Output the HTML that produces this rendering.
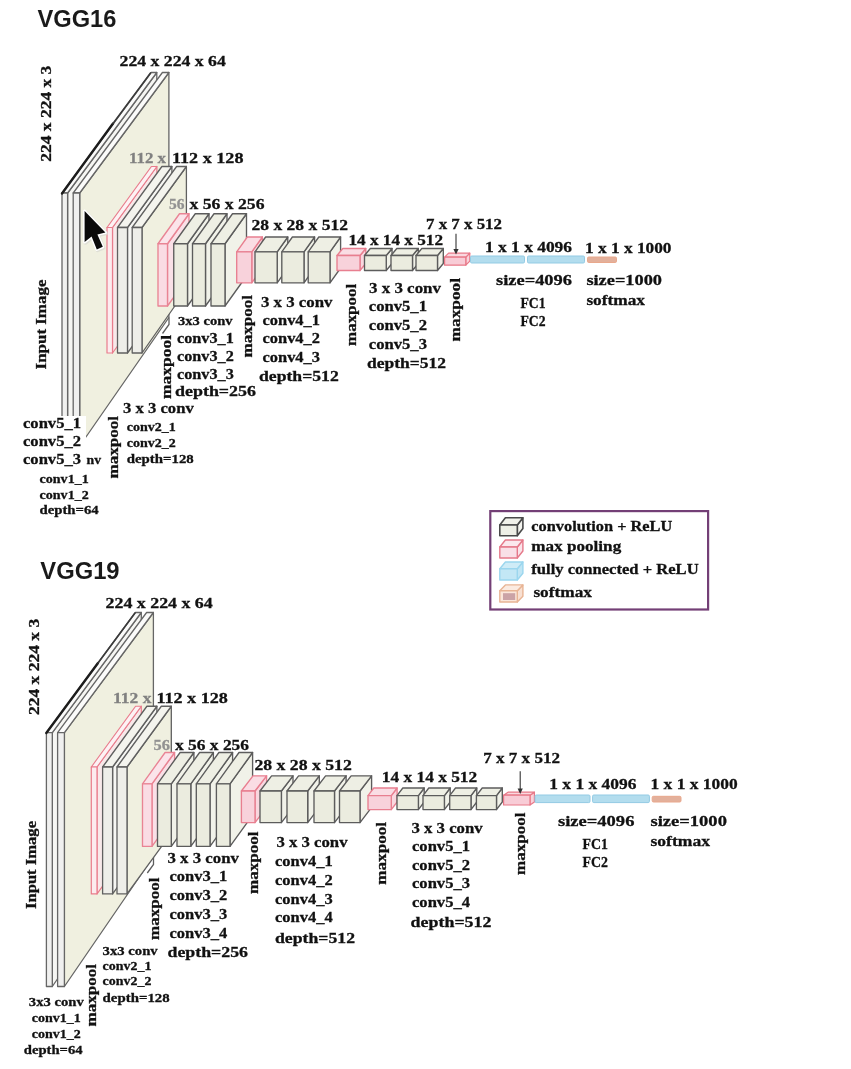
<!DOCTYPE html>
<html lang="en">
<head>
<meta charset="utf-8">
<title>VGG16 / VGG19 architecture</title>
<style>
html,body{margin:0;padding:0;background:#fff;}
body{width:851px;height:1069px;overflow:hidden;}
svg{display:block;}
text.s{font-family:"Liberation Serif","DejaVu Serif",serif;font-weight:bold;}
text.a{font-family:"Liberation Sans","DejaVu Sans",sans-serif;font-weight:bold;}
</style>
</head>
<body>
<svg width="851" height="1069" viewBox="0 0 851 1069">
<rect width="851" height="1069" fill="#ffffff"/>
<g opacity="0.999">
<g id="vgg16">
<text class="a" x="37.5" y="27" font-size="24" fill="#1a1a1a" textLength="78.9" lengthAdjust="spacingAndGlyphs">VGG16</text>
<polygon points="67.6,193 156.8,72.5 156.8,318 67.6,446" fill="#f6f6f3" stroke="#666666" stroke-width="1.3" stroke-linejoin="round"/>
<polygon points="62,193 151.2,72.5 156.8,72.5 67.6,193" fill="#fbfbfa" stroke="#666666" stroke-width="1.3" stroke-linejoin="round"/>
<rect x="62" y="193" width="5.6" height="253" fill="#f0f0ef" stroke="#666666" stroke-width="1.3" stroke-linejoin="round"/>
<polygon points="79.7,193 168.9,72.5 168.9,317.5 79.7,446" fill="#f0f0e0" stroke="#666666" stroke-width="1.3" stroke-linejoin="round"/>
<polygon points="73.2,193 162.4,72.5 168.9,72.5 79.7,193" fill="#fbfbfa" stroke="#666666" stroke-width="1.3" stroke-linejoin="round"/>
<rect x="73.2" y="193" width="6.5" height="253" fill="#f0f0ef" stroke="#666666" stroke-width="1.3" stroke-linejoin="round"/>
<polyline points="169,317.5 169,324.5 162.5,333.5" fill="none" stroke="#5e5e5e" stroke-width="1.3"/>
<polyline points="62,193.5 113,123.5" fill="none" stroke="#1c1c1c" stroke-width="2.4" stroke-linecap="round"/>
<polyline points="113,123.5 150.5,73" fill="none" stroke="#3a3a3a" stroke-width="1.6" stroke-linecap="round"/>
<polygon points="112.5,227.5 156.9,166.5 156.9,292 112.5,353" fill="#f8e9ea" stroke="#e97c8c" stroke-width="1.2" stroke-linejoin="round"/>
<polygon points="107,227.5 151.4,166.5 156.9,166.5 112.5,227.5" fill="#fdf2f4" stroke="#e97c8c" stroke-width="1.2" stroke-linejoin="round"/>
<rect x="107" y="227.5" width="5.5" height="125.5" fill="#fcecef" stroke="#e97c8c" stroke-width="1.2" stroke-linejoin="round"/>
<polygon points="127.5,227.5 171.9,166.5 171.9,292 127.5,353" fill="#f6f6f3" stroke="#606060" stroke-width="1.3" stroke-linejoin="round"/>
<polygon points="117.5,227.5 161.9,166.5 171.9,166.5 127.5,227.5" fill="#f4f4ee" stroke="#606060" stroke-width="1.3" stroke-linejoin="round"/>
<rect x="117.5" y="227.5" width="10" height="125.5" fill="#eeeee9" stroke="#606060" stroke-width="1.3" stroke-linejoin="round"/>
<polygon points="142,227.5 186.4,166.5 186.4,289.5 142,353" fill="#f0f0e0" stroke="#606060" stroke-width="1.3" stroke-linejoin="round"/>
<polygon points="132.2,227.5 176.6,166.5 186.4,166.5 142,227.5" fill="#f4f4ee" stroke="#606060" stroke-width="1.3" stroke-linejoin="round"/>
<rect x="132.2" y="227.5" width="9.8" height="125.5" fill="#eeeee9" stroke="#606060" stroke-width="1.3" stroke-linejoin="round"/>
<polygon points="167.5,243.75 189,213.75 189,276 167.5,306" fill="#fae0e7" stroke="#e98494" stroke-width="1.35" stroke-linejoin="round"/>
<polygon points="158,243.75 179.5,213.75 189,213.75 167.5,243.75" fill="#fbe4ea" stroke="#e98494" stroke-width="1.35" stroke-linejoin="round"/>
<rect x="158" y="243.75" width="9.5" height="62.25" fill="#fadce4" stroke="#e98494" stroke-width="1.35" stroke-linejoin="round"/>
<polygon points="187.5,243.75 209,213.75 209,276 187.5,306" fill="#f1f2e9" stroke="#5c5c5c" stroke-width="1.35" stroke-linejoin="round"/>
<polygon points="173.75,243.75 195.25,213.75 209,213.75 187.5,243.75" fill="#eeefe4" stroke="#5c5c5c" stroke-width="1.35" stroke-linejoin="round"/>
<rect x="173.75" y="243.75" width="13.75" height="62.25" fill="#ebecdf" stroke="#5c5c5c" stroke-width="1.35" stroke-linejoin="round"/>
<polygon points="205.5,243.75 227,213.75 227,276 205.5,306" fill="#f1f2e9" stroke="#5c5c5c" stroke-width="1.35" stroke-linejoin="round"/>
<polygon points="192.5,243.75 214,213.75 227,213.75 205.5,243.75" fill="#eeefe4" stroke="#5c5c5c" stroke-width="1.35" stroke-linejoin="round"/>
<rect x="192.5" y="243.75" width="13" height="62.25" fill="#ebecdf" stroke="#5c5c5c" stroke-width="1.35" stroke-linejoin="round"/>
<polygon points="225,243.75 246.5,213.75 246.5,276 225,306" fill="#f1f2e9" stroke="#5c5c5c" stroke-width="1.35" stroke-linejoin="round"/>
<polygon points="211,243.75 232.5,213.75 246.5,213.75 225,243.75" fill="#eeefe4" stroke="#5c5c5c" stroke-width="1.35" stroke-linejoin="round"/>
<rect x="211" y="243.75" width="14" height="62.25" fill="#ebecdf" stroke="#5c5c5c" stroke-width="1.35" stroke-linejoin="round"/>
<polygon points="251.8,251.8 262.4,237 262.4,268 251.8,282.8" fill="#f9d7df" stroke="#e87f90" stroke-width="1.35" stroke-linejoin="round"/>
<polygon points="236.7,251.8 247.3,237 262.4,237 251.8,251.8" fill="#fadde4" stroke="#e87f90" stroke-width="1.35" stroke-linejoin="round"/>
<rect x="236.7" y="251.8" width="15.1" height="31" fill="#f8d2db" stroke="#e87f90" stroke-width="1.35" stroke-linejoin="round"/>
<polygon points="277.2,251.8 287.8,237 287.8,268 277.2,282.8" fill="#f1f2e9" stroke="#5c5c5c" stroke-width="1.35" stroke-linejoin="round"/>
<polygon points="255,251.8 265.6,237 287.8,237 277.2,251.8" fill="#eeefe4" stroke="#5c5c5c" stroke-width="1.35" stroke-linejoin="round"/>
<rect x="255" y="251.8" width="22.2" height="31" fill="#ebecdf" stroke="#5c5c5c" stroke-width="1.35" stroke-linejoin="round"/>
<polygon points="304,251.8 314.6,237 314.6,268 304,282.8" fill="#f1f2e9" stroke="#5c5c5c" stroke-width="1.35" stroke-linejoin="round"/>
<polygon points="281.8,251.8 292.4,237 314.6,237 304,251.8" fill="#eeefe4" stroke="#5c5c5c" stroke-width="1.35" stroke-linejoin="round"/>
<rect x="281.8" y="251.8" width="22.2" height="31" fill="#ebecdf" stroke="#5c5c5c" stroke-width="1.35" stroke-linejoin="round"/>
<polygon points="330,251.8 340.6,237 340.6,268 330,282.8" fill="#f1f2e9" stroke="#5c5c5c" stroke-width="1.35" stroke-linejoin="round"/>
<polygon points="308.2,251.8 318.8,237 340.6,237 330,251.8" fill="#eeefe4" stroke="#5c5c5c" stroke-width="1.35" stroke-linejoin="round"/>
<rect x="308.2" y="251.8" width="21.8" height="31" fill="#ebecdf" stroke="#5c5c5c" stroke-width="1.35" stroke-linejoin="round"/>
<polygon points="360,255.5 365.8,248.5 365.8,263.5 360,270.5" fill="#f9d7df" stroke="#e87f90" stroke-width="1.35" stroke-linejoin="round"/>
<polygon points="337,255.5 342.8,248.5 365.8,248.5 360,255.5" fill="#fadde4" stroke="#e87f90" stroke-width="1.35" stroke-linejoin="round"/>
<rect x="337" y="255.5" width="23" height="15" fill="#f8d2db" stroke="#e87f90" stroke-width="1.35" stroke-linejoin="round"/>
<polygon points="386.25,255.5 392.05,248.5 392.05,263.5 386.25,270.5" fill="#f1f2e9" stroke="#5c5c5c" stroke-width="1.35" stroke-linejoin="round"/>
<polygon points="364.5,255.5 370.3,248.5 392.05,248.5 386.25,255.5" fill="#eeefe4" stroke="#5c5c5c" stroke-width="1.35" stroke-linejoin="round"/>
<rect x="364.5" y="255.5" width="21.75" height="15" fill="#ebecdf" stroke="#5c5c5c" stroke-width="1.35" stroke-linejoin="round"/>
<polygon points="412.5,255.5 418.3,248.5 418.3,263.5 412.5,270.5" fill="#f1f2e9" stroke="#5c5c5c" stroke-width="1.35" stroke-linejoin="round"/>
<polygon points="391,255.5 396.8,248.5 418.3,248.5 412.5,255.5" fill="#eeefe4" stroke="#5c5c5c" stroke-width="1.35" stroke-linejoin="round"/>
<rect x="391" y="255.5" width="21.5" height="15" fill="#ebecdf" stroke="#5c5c5c" stroke-width="1.35" stroke-linejoin="round"/>
<polygon points="437.5,255.5 443.3,248.5 443.3,263.5 437.5,270.5" fill="#f1f2e9" stroke="#5c5c5c" stroke-width="1.35" stroke-linejoin="round"/>
<polygon points="416,255.5 421.8,248.5 443.3,248.5 437.5,255.5" fill="#eeefe4" stroke="#5c5c5c" stroke-width="1.35" stroke-linejoin="round"/>
<rect x="416" y="255.5" width="21.5" height="15" fill="#ebecdf" stroke="#5c5c5c" stroke-width="1.35" stroke-linejoin="round"/>
<polygon points="465.8,257.2 469.8,253.2 469.8,261.2 465.8,265.2" fill="#f9d2da" stroke="#e87888" stroke-width="1.2" stroke-linejoin="round"/>
<polygon points="444.6,257.2 448.6,253.2 469.8,253.2 465.8,257.2" fill="#fad8df" stroke="#e87888" stroke-width="1.2" stroke-linejoin="round"/>
<rect x="444.6" y="257.2" width="21.2" height="8" fill="#f8ccd6" stroke="#e87888" stroke-width="1.2" stroke-linejoin="round"/>
<line x1="456" y1="233.75" x2="456" y2="252.5" stroke="#333" stroke-width="1.1"/>
<polygon points="453.4,249 458.6,249 456,254.5" fill="#333"/>
<rect x="470.5" y="256" width="54" height="7" rx="1.2" fill="#b3ddee" stroke="#93cbe4" stroke-width="1"/>
<rect x="527.5" y="256" width="57" height="7" rx="1.2" fill="#b3ddee" stroke="#93cbe4" stroke-width="1"/>
<rect x="587.5" y="257" width="29" height="5.5" rx="1.2" fill="#e3b09b" stroke="#e9a88c" stroke-width="1"/>
<rect x="20" y="416" width="66" height="52" fill="#fff"/>
<path d="M84.6 211 L84.6 242 L91.6 236.6 L96.8 249.4 L102.8 246.8 L97.4 234.4 L105.4 232.6 Z" fill="#dcdcd4" stroke="#dcdcd4" stroke-width="3.6" stroke-linejoin="round" transform="translate(0.8 1)" opacity="0.8"/>
<path d="M84.6 211 L84.6 242 L91.6 236.6 L96.8 249.4 L102.8 246.8 L97.4 234.4 L105.4 232.6 Z" fill="#0a0a0a" stroke="#ffffff" stroke-width="3" stroke-linejoin="round" paint-order="stroke"/>
<text class="s" x="119.6" y="65.6" font-size="15.5" fill="#111" stroke="#111" stroke-width="0.3" textLength="106.2" lengthAdjust="spacingAndGlyphs">224 x 224 x 64</text>
<text class="s" transform="translate(51.3 161.7) rotate(-90)" font-size="15.5" fill="#111" stroke="#111" stroke-width="0.3" textLength="96" lengthAdjust="spacingAndGlyphs">224 x 224 x 3</text>
<text class="s" x="129" y="162.7" font-size="15.5" fill="#808080" stroke="#808080" stroke-width="0.3" textLength="37" lengthAdjust="spacingAndGlyphs">112 x</text>
<text class="s" x="172" y="162.7" font-size="15.5" fill="#111" stroke="#111" stroke-width="0.3" textLength="71.5" lengthAdjust="spacingAndGlyphs">112 x 128</text>
<text class="s" x="169" y="208.5" font-size="15.5" fill="#929292" stroke="#929292" stroke-width="0.3" textLength="15.5" lengthAdjust="spacingAndGlyphs">56</text>
<text class="s" x="189.5" y="208.5" font-size="15.5" fill="#111" stroke="#111" stroke-width="0.3" textLength="75" lengthAdjust="spacingAndGlyphs">x 56 x 256</text>
<text class="s" x="251.5" y="229.5" font-size="15.5" fill="#111" stroke="#111" stroke-width="0.3" textLength="96.5" lengthAdjust="spacingAndGlyphs">28 x 28 x 512</text>
<text class="s" x="348.5" y="244.5" font-size="15.5" fill="#111" stroke="#111" stroke-width="0.3" textLength="94.5" lengthAdjust="spacingAndGlyphs">14 x 14 x 512</text>
<text class="s" x="426" y="229.3" font-size="15.5" fill="#111" stroke="#111" stroke-width="0.3" textLength="76" lengthAdjust="spacingAndGlyphs">7 x 7 x 512</text>
<text class="s" x="485" y="252" font-size="15.5" fill="#111" stroke="#111" stroke-width="0.3" textLength="87" lengthAdjust="spacingAndGlyphs">1 x 1 x 4096</text>
<text class="s" x="585" y="253" font-size="15.5" fill="#111" stroke="#111" stroke-width="0.3" textLength="86.5" lengthAdjust="spacingAndGlyphs">1 x 1 x 1000</text>
<text class="s" x="496" y="285" font-size="15.5" fill="#111" stroke="#111" stroke-width="0.3" textLength="76" lengthAdjust="spacingAndGlyphs">size=4096</text>
<text class="s" x="586.4" y="285" font-size="15.5" fill="#111" stroke="#111" stroke-width="0.3" textLength="75.6" lengthAdjust="spacingAndGlyphs">size=1000</text>
<text class="s" x="520.5" y="308" font-size="15.5" fill="#111" stroke="#111" stroke-width="0.3" textLength="25.1" lengthAdjust="spacingAndGlyphs">FC1</text>
<text class="s" x="520.5" y="326.4" font-size="15.5" fill="#111" stroke="#111" stroke-width="0.3" textLength="25.1" lengthAdjust="spacingAndGlyphs">FC2</text>
<text class="s" x="586.4" y="305" font-size="15.5" fill="#111" stroke="#111" stroke-width="0.3" textLength="58.6" lengthAdjust="spacingAndGlyphs">softmax</text>
<text class="s" transform="translate(46 369.4) rotate(-90)" font-size="15.5" fill="#111" stroke="#111" stroke-width="0.3" textLength="89.8" lengthAdjust="spacingAndGlyphs">Input Image</text>
<text class="s" transform="translate(117.5 478.5) rotate(-90)" font-size="15.5" fill="#111" stroke="#111" stroke-width="0.3" textLength="62.5" lengthAdjust="spacingAndGlyphs">maxpool</text>
<text class="s" transform="translate(170.5 399) rotate(-90)" font-size="15.5" fill="#111" stroke="#111" stroke-width="0.3" textLength="64" lengthAdjust="spacingAndGlyphs">maxpool</text>
<text class="s" transform="translate(252.3 357.5) rotate(-90)" font-size="15.5" fill="#111" stroke="#111" stroke-width="0.3" textLength="62.5" lengthAdjust="spacingAndGlyphs">maxpool</text>
<text class="s" transform="translate(356 346) rotate(-90)" font-size="15.5" fill="#111" stroke="#111" stroke-width="0.3" textLength="62.25" lengthAdjust="spacingAndGlyphs">maxpool</text>
<text class="s" transform="translate(460 341.4) rotate(-90)" font-size="15.5" fill="#111" stroke="#111" stroke-width="0.3" textLength="63.4" lengthAdjust="spacingAndGlyphs">maxpool</text>
<text class="s" x="23" y="427.5" font-size="15.5" fill="#111" stroke="#111" stroke-width="0.3" textLength="58" lengthAdjust="spacingAndGlyphs">conv5_1</text>
<text class="s" x="23" y="445.5" font-size="15.5" fill="#111" stroke="#111" stroke-width="0.3" textLength="58" lengthAdjust="spacingAndGlyphs">conv5_2</text>
<text class="s" x="23" y="464" font-size="15.5" fill="#111" stroke="#111" stroke-width="0.3" textLength="58" lengthAdjust="spacingAndGlyphs">conv5_3</text>
<text class="s" x="86.5" y="464" font-size="13" fill="#111" stroke="#111" stroke-width="0.3" textLength="14.5" lengthAdjust="spacingAndGlyphs">nv</text>
<text class="s" x="39.5" y="483" font-size="13" fill="#111" stroke="#111" stroke-width="0.3" textLength="49.25" lengthAdjust="spacingAndGlyphs">conv1_1</text>
<text class="s" x="39.5" y="498.75" font-size="13" fill="#111" stroke="#111" stroke-width="0.3" textLength="49.25" lengthAdjust="spacingAndGlyphs">conv1_2</text>
<text class="s" x="39.5" y="514" font-size="13" fill="#111" stroke="#111" stroke-width="0.3" textLength="59.25" lengthAdjust="spacingAndGlyphs">depth=64</text>
<text class="s" x="123" y="412.5" font-size="15.5" fill="#111" stroke="#111" stroke-width="0.3" textLength="70.75" lengthAdjust="spacingAndGlyphs">3 x 3 conv</text>
<text class="s" x="126.75" y="430.75" font-size="13" fill="#111" stroke="#111" stroke-width="0.3" textLength="49" lengthAdjust="spacingAndGlyphs">conv2_1</text>
<text class="s" x="126.75" y="446.75" font-size="13" fill="#111" stroke="#111" stroke-width="0.3" textLength="49" lengthAdjust="spacingAndGlyphs">conv2_2</text>
<text class="s" x="126.75" y="462.5" font-size="13" fill="#111" stroke="#111" stroke-width="0.3" textLength="67" lengthAdjust="spacingAndGlyphs">depth=128</text>
<text class="s" x="178" y="325" font-size="13" fill="#111" stroke="#111" stroke-width="0.3" textLength="54.5" lengthAdjust="spacingAndGlyphs">3x3 conv</text>
<text class="s" x="177" y="342.5" font-size="15.5" fill="#111" stroke="#111" stroke-width="0.3" textLength="56.75" lengthAdjust="spacingAndGlyphs">conv3_1</text>
<text class="s" x="177" y="360.5" font-size="15.5" fill="#111" stroke="#111" stroke-width="0.3" textLength="56.75" lengthAdjust="spacingAndGlyphs">conv3_2</text>
<text class="s" x="177" y="378.75" font-size="15.5" fill="#111" stroke="#111" stroke-width="0.3" textLength="56.75" lengthAdjust="spacingAndGlyphs">conv3_3</text>
<text class="s" x="175" y="396" font-size="15.5" fill="#111" stroke="#111" stroke-width="0.3" textLength="81" lengthAdjust="spacingAndGlyphs">depth=256</text>
<text class="s" x="261" y="307" font-size="15.5" fill="#111" stroke="#111" stroke-width="0.3" textLength="71.5" lengthAdjust="spacingAndGlyphs">3 x 3 conv</text>
<text class="s" x="262.5" y="325" font-size="15.5" fill="#111" stroke="#111" stroke-width="0.3" textLength="57.5" lengthAdjust="spacingAndGlyphs">conv4_1</text>
<text class="s" x="262.5" y="343" font-size="15.5" fill="#111" stroke="#111" stroke-width="0.3" textLength="57.5" lengthAdjust="spacingAndGlyphs">conv4_2</text>
<text class="s" x="262.5" y="362" font-size="15.5" fill="#111" stroke="#111" stroke-width="0.3" textLength="57.5" lengthAdjust="spacingAndGlyphs">conv4_3</text>
<text class="s" x="259" y="381" font-size="15.5" fill="#111" stroke="#111" stroke-width="0.3" textLength="79.75" lengthAdjust="spacingAndGlyphs">depth=512</text>
<text class="s" x="369" y="293" font-size="15.5" fill="#111" stroke="#111" stroke-width="0.3" textLength="72" lengthAdjust="spacingAndGlyphs">3 x 3 conv</text>
<text class="s" x="368.75" y="311.4" font-size="15.5" fill="#111" stroke="#111" stroke-width="0.3" textLength="58.25" lengthAdjust="spacingAndGlyphs">conv5_1</text>
<text class="s" x="368.75" y="330" font-size="15.5" fill="#111" stroke="#111" stroke-width="0.3" textLength="58.25" lengthAdjust="spacingAndGlyphs">conv5_2</text>
<text class="s" x="368.75" y="349" font-size="15.5" fill="#111" stroke="#111" stroke-width="0.3" textLength="58.25" lengthAdjust="spacingAndGlyphs">conv5_3</text>
<text class="s" x="367" y="367.7" font-size="15.5" fill="#111" stroke="#111" stroke-width="0.3" textLength="79" lengthAdjust="spacingAndGlyphs">depth=512</text>
</g>
<g id="legend">
<rect x="490.3" y="511.1" width="217.8" height="98.4" fill="#fff" stroke="#733f76" stroke-width="2.2"/>
<polygon points="517.3,525 522.9,517.8 522.9,528.5 517.3,535.7" fill="#f3f3ee" stroke="#4a4a4a" stroke-width="1.6" stroke-linejoin="round"/>
<polygon points="499.8,525 505.4,517.8 522.9,517.8 517.3,525" fill="#f1f1ea" stroke="#4a4a4a" stroke-width="1.6" stroke-linejoin="round"/>
<rect x="499.8" y="525" width="17.5" height="10.7" fill="#eeefe6" stroke="#4a4a4a" stroke-width="1.6" stroke-linejoin="round"/>
<polygon points="517.3,547 522.9,540 522.9,551 517.3,558" fill="#fae3e9" stroke="#e5798a" stroke-width="1.4" stroke-linejoin="round"/>
<polygon points="499.8,547 505.4,540 522.9,540 517.3,547" fill="#fbe8ed" stroke="#e5798a" stroke-width="1.4" stroke-linejoin="round"/>
<rect x="499.8" y="547" width="17.5" height="11" fill="#f9e0e7" stroke="#e5798a" stroke-width="1.4" stroke-linejoin="round"/>
<polygon points="517.3,568.8 522.9,562 522.9,573.2 517.3,580" fill="#c0e5f4" stroke="#9bd6ee" stroke-width="1.4" stroke-linejoin="round"/>
<polygon points="499.8,568.8 505.4,562 522.9,562 517.3,568.8" fill="#cfecf7" stroke="#9bd6ee" stroke-width="1.4" stroke-linejoin="round"/>
<rect x="499.8" y="568.8" width="17.5" height="11.2" fill="#c3e7f5" stroke="#9bd6ee" stroke-width="1.4" stroke-linejoin="round"/>
<polygon points="517.3,590.7 522.9,584.9 522.9,596.2 517.3,602" fill="#f8e0d2" stroke="#e8b494" stroke-width="1.4" stroke-linejoin="round"/>
<polygon points="499.8,590.7 505.4,584.9 522.9,584.9 517.3,590.7" fill="#fbebe1" stroke="#e8b494" stroke-width="1.4" stroke-linejoin="round"/>
<rect x="499.8" y="590.7" width="17.5" height="11.3" fill="#fae6da" stroke="#e8b494" stroke-width="1.4" stroke-linejoin="round"/>
<rect x="503" y="593.2" width="12.2" height="6.8" fill="#cba3a6"/>
<text class="s" x="531.3" y="530.6" font-size="15.5" fill="#111" stroke="#111" stroke-width="0.3" textLength="141" lengthAdjust="spacingAndGlyphs">convolution + ReLU</text>
<text class="s" x="531.3" y="551.4" font-size="15.5" fill="#111" stroke="#111" stroke-width="0.3" textLength="89.9" lengthAdjust="spacingAndGlyphs">max pooling</text>
<text class="s" x="531.3" y="574" font-size="15.5" fill="#111" stroke="#111" stroke-width="0.3" textLength="167.3" lengthAdjust="spacingAndGlyphs">fully connected + ReLU</text>
<text class="s" x="533.4" y="597.3" font-size="15.5" fill="#111" stroke="#111" stroke-width="0.3" textLength="58.6" lengthAdjust="spacingAndGlyphs">softmax</text>
</g>
<g id="vgg19">
<text class="a" x="40.3" y="579" font-size="24" fill="#1a1a1a" textLength="79.3" lengthAdjust="spacingAndGlyphs">VGG19</text>
<polygon points="52.3,732.7 141.3,612.5 141.3,857 52.3,986.5" fill="#f6f6f3" stroke="#666666" stroke-width="1.3" stroke-linejoin="round"/>
<polygon points="46.4,732.7 135.4,612.5 141.3,612.5 52.3,732.7" fill="#fbfbfa" stroke="#666666" stroke-width="1.3" stroke-linejoin="round"/>
<rect x="46.4" y="732.7" width="5.9" height="253.8" fill="#f0f0ef" stroke="#666666" stroke-width="1.3" stroke-linejoin="round"/>
<polygon points="64.4,732.7 153.4,612.5 153.4,856.5 64.4,986.5" fill="#f0f0e0" stroke="#666666" stroke-width="1.3" stroke-linejoin="round"/>
<polygon points="57.6,732.7 146.6,612.5 153.4,612.5 64.4,732.7" fill="#fbfbfa" stroke="#666666" stroke-width="1.3" stroke-linejoin="round"/>
<rect x="57.6" y="732.7" width="6.8" height="253.8" fill="#f0f0ef" stroke="#666666" stroke-width="1.3" stroke-linejoin="round"/>
<polyline points="153.5,856.5 153.5,864.5 147.3,873" fill="none" stroke="#5e5e5e" stroke-width="1.3"/>
<polyline points="46.3,733 98,663" fill="none" stroke="#1c1c1c" stroke-width="2.4" stroke-linecap="round"/>
<polyline points="98,663 135,613" fill="none" stroke="#3a3a3a" stroke-width="1.6" stroke-linecap="round"/>
<polygon points="97,767 141.3,706.25 141.3,833.15 97,893.9" fill="#f8e9ea" stroke="#e97c8c" stroke-width="1.2" stroke-linejoin="round"/>
<polygon points="91.3,767 135.6,706.25 141.3,706.25 97,767" fill="#fdf2f4" stroke="#e97c8c" stroke-width="1.2" stroke-linejoin="round"/>
<rect x="91.3" y="767" width="5.7" height="126.9" fill="#fcecef" stroke="#e97c8c" stroke-width="1.2" stroke-linejoin="round"/>
<polygon points="112.6,767 156.9,706.25 156.9,833.15 112.6,893.9" fill="#f6f6f3" stroke="#606060" stroke-width="1.3" stroke-linejoin="round"/>
<polygon points="102.6,767 146.9,706.25 156.9,706.25 112.6,767" fill="#f4f4ee" stroke="#606060" stroke-width="1.3" stroke-linejoin="round"/>
<rect x="102.6" y="767" width="10" height="126.9" fill="#eeeee9" stroke="#606060" stroke-width="1.3" stroke-linejoin="round"/>
<polygon points="127,767 171.3,706.25 171.3,833.15 127,893.9" fill="#f0f0e0" stroke="#606060" stroke-width="1.3" stroke-linejoin="round"/>
<polygon points="117,767 161.3,706.25 171.3,706.25 127,767" fill="#f4f4ee" stroke="#606060" stroke-width="1.3" stroke-linejoin="round"/>
<rect x="117" y="767" width="10" height="126.9" fill="#eeeee9" stroke="#606060" stroke-width="1.3" stroke-linejoin="round"/>
<polygon points="152,783.8 174.6,752.5 174.6,815.1 152,846.4" fill="#fae0e7" stroke="#e98494" stroke-width="1.35" stroke-linejoin="round"/>
<polygon points="142.5,783.8 165.1,752.5 174.6,752.5 152,783.8" fill="#fbe4ea" stroke="#e98494" stroke-width="1.35" stroke-linejoin="round"/>
<rect x="142.5" y="783.8" width="9.5" height="62.6" fill="#fadce4" stroke="#e98494" stroke-width="1.35" stroke-linejoin="round"/>
<polygon points="171.3,783.8 193.9,752.5 193.9,815.1 171.3,846.4" fill="#f1f2e9" stroke="#5c5c5c" stroke-width="1.35" stroke-linejoin="round"/>
<polygon points="157.5,783.8 180.1,752.5 193.9,752.5 171.3,783.8" fill="#eeefe4" stroke="#5c5c5c" stroke-width="1.35" stroke-linejoin="round"/>
<rect x="157.5" y="783.8" width="13.8" height="62.6" fill="#ebecdf" stroke="#5c5c5c" stroke-width="1.35" stroke-linejoin="round"/>
<polygon points="190.8,783.8 213.4,752.5 213.4,815.1 190.8,846.4" fill="#f1f2e9" stroke="#5c5c5c" stroke-width="1.35" stroke-linejoin="round"/>
<polygon points="177,783.8 199.6,752.5 213.4,752.5 190.8,783.8" fill="#eeefe4" stroke="#5c5c5c" stroke-width="1.35" stroke-linejoin="round"/>
<rect x="177" y="783.8" width="13.8" height="62.6" fill="#ebecdf" stroke="#5c5c5c" stroke-width="1.35" stroke-linejoin="round"/>
<polygon points="210,783.8 232.6,752.5 232.6,815.1 210,846.4" fill="#f1f2e9" stroke="#5c5c5c" stroke-width="1.35" stroke-linejoin="round"/>
<polygon points="196.3,783.8 218.9,752.5 232.6,752.5 210,783.8" fill="#eeefe4" stroke="#5c5c5c" stroke-width="1.35" stroke-linejoin="round"/>
<rect x="196.3" y="783.8" width="13.7" height="62.6" fill="#ebecdf" stroke="#5c5c5c" stroke-width="1.35" stroke-linejoin="round"/>
<polygon points="230,783.8 252.6,752.5 252.6,815.1 230,846.4" fill="#f1f2e9" stroke="#5c5c5c" stroke-width="1.35" stroke-linejoin="round"/>
<polygon points="216.4,783.8 239,752.5 252.6,752.5 230,783.8" fill="#eeefe4" stroke="#5c5c5c" stroke-width="1.35" stroke-linejoin="round"/>
<rect x="216.4" y="783.8" width="13.6" height="62.6" fill="#ebecdf" stroke="#5c5c5c" stroke-width="1.35" stroke-linejoin="round"/>
<polygon points="255,791 266.6,775.8 266.6,807.4 255,822.6" fill="#f9d7df" stroke="#e87f90" stroke-width="1.35" stroke-linejoin="round"/>
<polygon points="241.4,791 253,775.8 266.6,775.8 255,791" fill="#fadde4" stroke="#e87f90" stroke-width="1.35" stroke-linejoin="round"/>
<rect x="241.4" y="791" width="13.6" height="31.6" fill="#f8d2db" stroke="#e87f90" stroke-width="1.35" stroke-linejoin="round"/>
<polygon points="281.4,791 293,775.8 293,807.4 281.4,822.6" fill="#f1f2e9" stroke="#5c5c5c" stroke-width="1.35" stroke-linejoin="round"/>
<polygon points="260,791 271.6,775.8 293,775.8 281.4,791" fill="#eeefe4" stroke="#5c5c5c" stroke-width="1.35" stroke-linejoin="round"/>
<rect x="260" y="791" width="21.4" height="31.6" fill="#ebecdf" stroke="#5c5c5c" stroke-width="1.35" stroke-linejoin="round"/>
<polygon points="307.7,791 319.3,775.8 319.3,807.4 307.7,822.6" fill="#f1f2e9" stroke="#5c5c5c" stroke-width="1.35" stroke-linejoin="round"/>
<polygon points="287,791 298.6,775.8 319.3,775.8 307.7,791" fill="#eeefe4" stroke="#5c5c5c" stroke-width="1.35" stroke-linejoin="round"/>
<rect x="287" y="791" width="20.7" height="31.6" fill="#ebecdf" stroke="#5c5c5c" stroke-width="1.35" stroke-linejoin="round"/>
<polygon points="334.5,791 346.1,775.8 346.1,807.4 334.5,822.6" fill="#f1f2e9" stroke="#5c5c5c" stroke-width="1.35" stroke-linejoin="round"/>
<polygon points="314,791 325.6,775.8 346.1,775.8 334.5,791" fill="#eeefe4" stroke="#5c5c5c" stroke-width="1.35" stroke-linejoin="round"/>
<rect x="314" y="791" width="20.5" height="31.6" fill="#ebecdf" stroke="#5c5c5c" stroke-width="1.35" stroke-linejoin="round"/>
<polygon points="360,791 371.6,775.8 371.6,807.4 360,822.6" fill="#f1f2e9" stroke="#5c5c5c" stroke-width="1.35" stroke-linejoin="round"/>
<polygon points="339.5,791 351.1,775.8 371.6,775.8 360,791" fill="#eeefe4" stroke="#5c5c5c" stroke-width="1.35" stroke-linejoin="round"/>
<rect x="339.5" y="791" width="20.5" height="31.6" fill="#ebecdf" stroke="#5c5c5c" stroke-width="1.35" stroke-linejoin="round"/>
<polygon points="391.3,795.6 397.1,788 397.1,802 391.3,809.6" fill="#f9d7df" stroke="#e87f90" stroke-width="1.35" stroke-linejoin="round"/>
<polygon points="368,795.6 373.8,788 397.1,788 391.3,795.6" fill="#fadde4" stroke="#e87f90" stroke-width="1.35" stroke-linejoin="round"/>
<rect x="368" y="795.6" width="23.3" height="14" fill="#f8d2db" stroke="#e87f90" stroke-width="1.35" stroke-linejoin="round"/>
<polygon points="418.4,795.6 424.2,788 424.2,802 418.4,809.6" fill="#f1f2e9" stroke="#5c5c5c" stroke-width="1.35" stroke-linejoin="round"/>
<polygon points="397,795.6 402.8,788 424.2,788 418.4,795.6" fill="#eeefe4" stroke="#5c5c5c" stroke-width="1.35" stroke-linejoin="round"/>
<rect x="397" y="795.6" width="21.4" height="14" fill="#ebecdf" stroke="#5c5c5c" stroke-width="1.35" stroke-linejoin="round"/>
<polygon points="444.4,795.6 450.2,788 450.2,802 444.4,809.6" fill="#f1f2e9" stroke="#5c5c5c" stroke-width="1.35" stroke-linejoin="round"/>
<polygon points="423,795.6 428.8,788 450.2,788 444.4,795.6" fill="#eeefe4" stroke="#5c5c5c" stroke-width="1.35" stroke-linejoin="round"/>
<rect x="423" y="795.6" width="21.4" height="14" fill="#ebecdf" stroke="#5c5c5c" stroke-width="1.35" stroke-linejoin="round"/>
<polygon points="471,795.6 476.8,788 476.8,802 471,809.6" fill="#f1f2e9" stroke="#5c5c5c" stroke-width="1.35" stroke-linejoin="round"/>
<polygon points="449.7,795.6 455.5,788 476.8,788 471,795.6" fill="#eeefe4" stroke="#5c5c5c" stroke-width="1.35" stroke-linejoin="round"/>
<rect x="449.7" y="795.6" width="21.3" height="14" fill="#ebecdf" stroke="#5c5c5c" stroke-width="1.35" stroke-linejoin="round"/>
<polygon points="496.5,795.6 502.3,788 502.3,802 496.5,809.6" fill="#f1f2e9" stroke="#5c5c5c" stroke-width="1.35" stroke-linejoin="round"/>
<polygon points="476.4,795.6 482.2,788 502.3,788 496.5,795.6" fill="#eeefe4" stroke="#5c5c5c" stroke-width="1.35" stroke-linejoin="round"/>
<rect x="476.4" y="795.6" width="20.1" height="14" fill="#ebecdf" stroke="#5c5c5c" stroke-width="1.35" stroke-linejoin="round"/>
<polygon points="530,795.2 534.4,792.2 534.4,802 530,805" fill="#f9d2da" stroke="#e87888" stroke-width="1.2" stroke-linejoin="round"/>
<polygon points="503.6,795.2 508,792.2 534.4,792.2 530,795.2" fill="#fad8df" stroke="#e87888" stroke-width="1.2" stroke-linejoin="round"/>
<rect x="503.6" y="795.2" width="26.4" height="9.8" fill="#f8ccd6" stroke="#e87888" stroke-width="1.2" stroke-linejoin="round"/>
<line x1="520.2" y1="771.3" x2="520.2" y2="792" stroke="#333" stroke-width="1.1"/>
<polygon points="517.6,788.5 522.8,788.5 520.2,794" fill="#333"/>
<rect x="535" y="795" width="55" height="7.6" rx="1.2" fill="#b3ddee" stroke="#93cbe4" stroke-width="1"/>
<rect x="592.6" y="795" width="56.8" height="7.6" rx="1.2" fill="#b3ddee" stroke="#93cbe4" stroke-width="1"/>
<rect x="652.2" y="796.3" width="28.8" height="5.7" rx="1.2" fill="#e3b09b" stroke="#e9a88c" stroke-width="1"/>
<text class="s" x="105.6" y="608" font-size="15.5" fill="#111" stroke="#111" stroke-width="0.3" textLength="107.1" lengthAdjust="spacingAndGlyphs">224 x 224 x 64</text>
<text class="s" transform="translate(38.6 715) rotate(-90)" font-size="15.5" fill="#111" stroke="#111" stroke-width="0.3" textLength="96.2" lengthAdjust="spacingAndGlyphs">224 x 224 x 3</text>
<text class="s" x="113" y="703" font-size="15.5" fill="#808080" stroke="#808080" stroke-width="0.3" textLength="38.4" lengthAdjust="spacingAndGlyphs">112 x</text>
<text class="s" x="156.4" y="703" font-size="15.5" fill="#111" stroke="#111" stroke-width="0.3" textLength="71.4" lengthAdjust="spacingAndGlyphs">112 x 128</text>
<text class="s" x="153.6" y="749.6" font-size="15.5" fill="#929292" stroke="#929292" stroke-width="0.3" textLength="16.4" lengthAdjust="spacingAndGlyphs">56</text>
<text class="s" x="175" y="749.6" font-size="15.5" fill="#111" stroke="#111" stroke-width="0.3" textLength="74" lengthAdjust="spacingAndGlyphs">x 56 x 256</text>
<text class="s" x="254.4" y="769.5" font-size="15.5" fill="#111" stroke="#111" stroke-width="0.3" textLength="97.4" lengthAdjust="spacingAndGlyphs">28 x 28 x 512</text>
<text class="s" x="381.8" y="782" font-size="15.5" fill="#111" stroke="#111" stroke-width="0.3" textLength="95.4" lengthAdjust="spacingAndGlyphs">14 x 14 x 512</text>
<text class="s" x="483.2" y="763" font-size="15.5" fill="#111" stroke="#111" stroke-width="0.3" textLength="76.8" lengthAdjust="spacingAndGlyphs">7 x 7 x 512</text>
<text class="s" x="549.3" y="789.3" font-size="15.5" fill="#111" stroke="#111" stroke-width="0.3" textLength="87.1" lengthAdjust="spacingAndGlyphs">1 x 1 x 4096</text>
<text class="s" x="650.5" y="789.3" font-size="15.5" fill="#111" stroke="#111" stroke-width="0.3" textLength="87.1" lengthAdjust="spacingAndGlyphs">1 x 1 x 1000</text>
<text class="s" x="558" y="825.6" font-size="15.5" fill="#111" stroke="#111" stroke-width="0.3" textLength="76.4" lengthAdjust="spacingAndGlyphs">size=4096</text>
<text class="s" x="650.5" y="825.6" font-size="15.5" fill="#111" stroke="#111" stroke-width="0.3" textLength="76.4" lengthAdjust="spacingAndGlyphs">size=1000</text>
<text class="s" x="582.6" y="849" font-size="15.5" fill="#111" stroke="#111" stroke-width="0.3" textLength="25.4" lengthAdjust="spacingAndGlyphs">FC1</text>
<text class="s" x="582.6" y="867" font-size="15.5" fill="#111" stroke="#111" stroke-width="0.3" textLength="25.4" lengthAdjust="spacingAndGlyphs">FC2</text>
<text class="s" x="650.5" y="846.4" font-size="15.5" fill="#111" stroke="#111" stroke-width="0.3" textLength="59.5" lengthAdjust="spacingAndGlyphs">softmax</text>
<text class="s" transform="translate(36.2 909) rotate(-90)" font-size="15.5" fill="#111" stroke="#111" stroke-width="0.3" textLength="88" lengthAdjust="spacingAndGlyphs">Input Image</text>
<text class="s" transform="translate(96.3 1026.5) rotate(-90)" font-size="15.5" fill="#111" stroke="#111" stroke-width="0.3" textLength="62.5" lengthAdjust="spacingAndGlyphs">maxpool</text>
<text class="s" transform="translate(159.4 940) rotate(-90)" font-size="15.5" fill="#111" stroke="#111" stroke-width="0.3" textLength="62.4" lengthAdjust="spacingAndGlyphs">maxpool</text>
<text class="s" transform="translate(257.6 894) rotate(-90)" font-size="15.5" fill="#111" stroke="#111" stroke-width="0.3" textLength="62.6" lengthAdjust="spacingAndGlyphs">maxpool</text>
<text class="s" transform="translate(386.3 884.7) rotate(-90)" font-size="15.5" fill="#111" stroke="#111" stroke-width="0.3" textLength="62.7" lengthAdjust="spacingAndGlyphs">maxpool</text>
<text class="s" transform="translate(525.2 875) rotate(-90)" font-size="15.5" fill="#111" stroke="#111" stroke-width="0.3" textLength="62.4" lengthAdjust="spacingAndGlyphs">maxpool</text>
<text class="s" x="28.8" y="1005.8" font-size="13" fill="#111" stroke="#111" stroke-width="0.3" textLength="55" lengthAdjust="spacingAndGlyphs">3x3 conv</text>
<text class="s" x="31.8" y="1022" font-size="13" fill="#111" stroke="#111" stroke-width="0.3" textLength="49" lengthAdjust="spacingAndGlyphs">conv1_1</text>
<text class="s" x="31.8" y="1037.8" font-size="13" fill="#111" stroke="#111" stroke-width="0.3" textLength="49" lengthAdjust="spacingAndGlyphs">conv1_2</text>
<text class="s" x="23.8" y="1054" font-size="13" fill="#111" stroke="#111" stroke-width="0.3" textLength="58.8" lengthAdjust="spacingAndGlyphs">depth=64</text>
<text class="s" x="102.6" y="954.7" font-size="13" fill="#111" stroke="#111" stroke-width="0.3" textLength="55.1" lengthAdjust="spacingAndGlyphs">3x3 conv</text>
<text class="s" x="102.6" y="969.5" font-size="13" fill="#111" stroke="#111" stroke-width="0.3" textLength="48.8" lengthAdjust="spacingAndGlyphs">conv2_1</text>
<text class="s" x="102.6" y="985.2" font-size="13" fill="#111" stroke="#111" stroke-width="0.3" textLength="48.8" lengthAdjust="spacingAndGlyphs">conv2_2</text>
<text class="s" x="102.6" y="1001.5" font-size="13" fill="#111" stroke="#111" stroke-width="0.3" textLength="67.1" lengthAdjust="spacingAndGlyphs">depth=128</text>
<text class="s" x="167.5" y="863" font-size="15.5" fill="#111" stroke="#111" stroke-width="0.3" textLength="71.5" lengthAdjust="spacingAndGlyphs">3 x 3 conv</text>
<text class="s" x="169.5" y="881.4" font-size="15.5" fill="#111" stroke="#111" stroke-width="0.3" textLength="57.7" lengthAdjust="spacingAndGlyphs">conv3_1</text>
<text class="s" x="169.5" y="900.2" font-size="15.5" fill="#111" stroke="#111" stroke-width="0.3" textLength="57.7" lengthAdjust="spacingAndGlyphs">conv3_2</text>
<text class="s" x="169.5" y="919" font-size="15.5" fill="#111" stroke="#111" stroke-width="0.3" textLength="57.7" lengthAdjust="spacingAndGlyphs">conv3_3</text>
<text class="s" x="169.5" y="937.5" font-size="15.5" fill="#111" stroke="#111" stroke-width="0.3" textLength="57.7" lengthAdjust="spacingAndGlyphs">conv3_4</text>
<text class="s" x="167.5" y="956.8" font-size="15.5" fill="#111" stroke="#111" stroke-width="0.3" textLength="80.5" lengthAdjust="spacingAndGlyphs">depth=256</text>
<text class="s" x="276.4" y="847" font-size="15.5" fill="#111" stroke="#111" stroke-width="0.3" textLength="71.1" lengthAdjust="spacingAndGlyphs">3 x 3 conv</text>
<text class="s" x="275" y="866.4" font-size="15.5" fill="#111" stroke="#111" stroke-width="0.3" textLength="57.7" lengthAdjust="spacingAndGlyphs">conv4_1</text>
<text class="s" x="275" y="885" font-size="15.5" fill="#111" stroke="#111" stroke-width="0.3" textLength="57.7" lengthAdjust="spacingAndGlyphs">conv4_2</text>
<text class="s" x="275" y="904" font-size="15.5" fill="#111" stroke="#111" stroke-width="0.3" textLength="57.7" lengthAdjust="spacingAndGlyphs">conv4_3</text>
<text class="s" x="275" y="922" font-size="15.5" fill="#111" stroke="#111" stroke-width="0.3" textLength="57.7" lengthAdjust="spacingAndGlyphs">conv4_4</text>
<text class="s" x="275" y="943" font-size="15.5" fill="#111" stroke="#111" stroke-width="0.3" textLength="80" lengthAdjust="spacingAndGlyphs">depth=512</text>
<text class="s" x="411.4" y="833" font-size="15.5" fill="#111" stroke="#111" stroke-width="0.3" textLength="71.3" lengthAdjust="spacingAndGlyphs">3 x 3 conv</text>
<text class="s" x="412" y="851" font-size="15.5" fill="#111" stroke="#111" stroke-width="0.3" textLength="58" lengthAdjust="spacingAndGlyphs">conv5_1</text>
<text class="s" x="412" y="869.7" font-size="15.5" fill="#111" stroke="#111" stroke-width="0.3" textLength="58" lengthAdjust="spacingAndGlyphs">conv5_2</text>
<text class="s" x="412" y="888.2" font-size="15.5" fill="#111" stroke="#111" stroke-width="0.3" textLength="58" lengthAdjust="spacingAndGlyphs">conv5_3</text>
<text class="s" x="412" y="906.5" font-size="15.5" fill="#111" stroke="#111" stroke-width="0.3" textLength="58" lengthAdjust="spacingAndGlyphs">conv5_4</text>
<text class="s" x="410.6" y="926.5" font-size="15.5" fill="#111" stroke="#111" stroke-width="0.3" textLength="80.9" lengthAdjust="spacingAndGlyphs">depth=512</text>
</g>
</g>
</svg>
</body>
</html>
